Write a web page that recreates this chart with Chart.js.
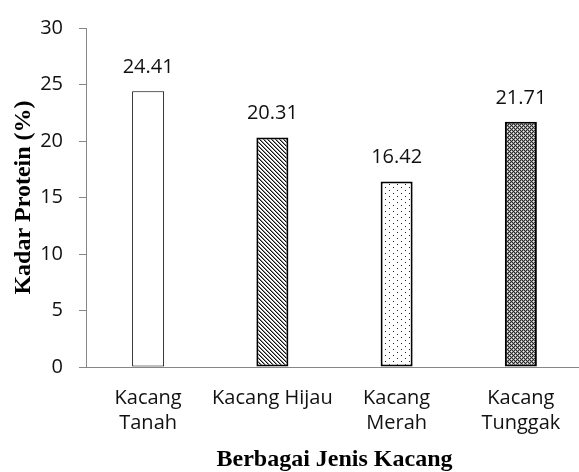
<!DOCTYPE html>
<html>
<head>
<meta charset="utf-8">
<script src="https://cdn.jsdelivr.net/npm/chart.js@4.4.0/dist/chart.umd.min.js"></script>
<style>
  body { margin: 0; overflow: hidden; background: #fff; }
</style>
</head>
<body>
<canvas id="chart" width="583" height="472"></canvas>
<script>
// data
var categories = [["Kacang", "Tanah"], "Kacang Hijau", ["Kacang", "Merah"], ["Kacang", "Tunggak"]];
var proteinValues = [24.41, 20.31, 16.42, 21.71];
var yTicks = [0, 5, 10, 15, 20, 25, 30];

var axisColor = "#868686";
var tickFont = { family: "'Open Sans'", size: 20, lineHeight: 1.28 };
var titleFont = { family: "'Liberation Serif'", size: 24, weight: "bold", lineHeight: 1 };

// small tile patterns like the Excel fills
function makeTile(w, h, pick) {
  var c = document.createElement("canvas");
  c.width = w;
  c.height = h;
  var g = c.getContext("2d");
  for (var y = 0; y < h; y++) {
    for (var x = 0; x < w; x++) {
      g.fillStyle = pick(x, y);
      g.fillRect(x, y, 1, 1);
    }
  }
  return g.createPattern(c, "repeat");
}

var hatch = makeTile(4, 4, function(x, y) {
  var d = (x - y + 8) % 4;
  if (d == 0) return "#111";
  if (d == 1) return "#8c8c8c";
  return "#fff";
});

var dots = makeTile(8, 6, function(x, y) {
  if ((x == 1 && y == 1) || (x == 5 && y == 4)) return "#222";
  return "#fff";
});

var checks = makeTile(4, 4, function(x, y) {
  if ((x == 1 && y == 1) || (x == 3 && y == 3)) return "#f0f0f0";
  return (x + y) % 2 == 0 ? "#2a2a2a" : "#9a9a9a";
});

// numbers above the bars
const valueLabels = {
  id: "valueLabels",
  afterDatasetsDraw(chart) {
    const ctx = chart.ctx;
    const meta = chart.getDatasetMeta(0);
    ctx.save();
    ctx.font = "20px 'Open Sans'";
    ctx.fillStyle = "#111";
    ctx.textAlign = "center";
    ctx.textBaseline = "alphabetic";
    meta.data.forEach((bar, i) => {
      ctx.fillText(proteinValues[i].toFixed(2), bar.x, bar.y - 18);
    });
    ctx.restore();
  }
};

const ctx = document.getElementById("chart").getContext("2d");

new Chart(ctx, {
  type: "bar",
  data: {
    labels: categories,
    datasets: [{
      data: proteinValues,
      backgroundColor: ["#fff", hatch, dots, checks],
      borderColor: "#000",
      borderWidth: [1, 2, 2, 2],
      borderSkipped: false,
      barPercentage: 0.2575,
      categoryPercentage: 1,
    }]
  },
  options: {
    responsive: false,
    animation: false,
    layout: { padding: { top: 20, right: 0, bottom: 0, left: 0 } },
    plugins: {
      legend: { display: false },
      tooltip: { enabled: false },
    },
    scales: {
      x: {
        grid: { display: true, drawOnChartArea: false, drawTicks: false },
        border: { display: true, color: axisColor, width: 1 },
        ticks: { color: "#111", font: tickFont, padding: 18, maxRotation: 0, autoSkip: false },
        title: {
          display: true,
          text: "Berbagai Jenis Kacang",
          color: "#000",
          font: titleFont,
          padding: { top: 0, bottom: 0 },
        },
        afterFit: function(scale) { scale.height = 105; },
      },
      y: {
        min: 0,
        max: 30,
        afterBuildTicks: function(scale) {
          scale.ticks = yTicks.map(v => ({ value: v }));
        },
        grid: { display: true, drawOnChartArea: false, drawTicks: true, tickLength: 7, color: axisColor },
        border: { display: true, color: axisColor, width: 1 },
        ticks: { color: "#111", font: { family: "'Open Sans'", size: 20 }, padding: 16 },
        title: {
          display: true,
          text: "Kadar Protein (%)",
          color: "#000",
          font: titleFont,
          padding: { top: 12, bottom: 0 },
        },
        afterFit: function(scale) { scale.width = 86; },
      }
    }
  },
  plugins: [valueLabels],
});
</script>
</body>
</html>
